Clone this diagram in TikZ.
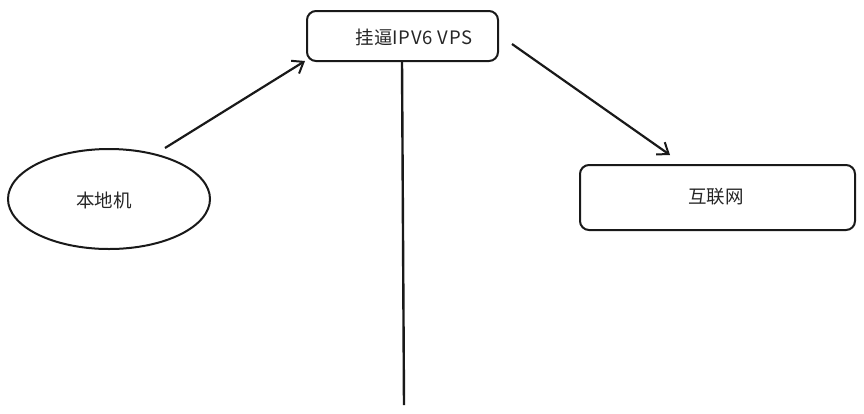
\documentclass[tikz,border=0pt]{standalone}
\usepackage{fontspec}
\setmainfont{Noto Sans CJK SC}
\usetikzlibrary{arrows.meta,shapes.geometric}
\begin{document}
\begin{tikzpicture}[x=1pt,y=-1pt,
  sk/.style={draw=black!90, line width=2pt},
  boxr/.style={sk, rounded corners=9pt, inner sep=0pt},
  lbl/.style={font=\fontsize{18.5}{18.5}\selectfont, text=black!85},
  arr/.style={line width=2.2pt, draw=black!90, -{Straight Barb[length=10pt,width=15pt,line width=2pt]}},
  ln/.style={line width=2.4pt, draw=black!90}]
\useasboundingbox (0,0) rectangle (864,413);
\node[boxr, minimum width=191pt, minimum height=50pt] (vps) at (402.5,36) {};
\node[lbl] (vpst) at (414,37) {挂逼\addfontfeature{LetterSpace=4}IPV6 VPS};
\node[sk, ellipse, minimum width=202pt, minimum height=100pt, inner sep=0pt] (local) at (109,199) {};
\node[lbl] at (104,200) {本地机};
\node[boxr, minimum width=275pt, minimum height=65pt] (net) at (717.5,197.5) {};
\node[lbl] at (716,197) {互联网};
\coordinate (a1s) at (165,148);
\coordinate (a1e) at (305,61);
\coordinate (a2s) at (512,44);
\coordinate (a2e) at (670,155);
\coordinate (ls) at (402,61);
\coordinate (le) at (404,405);
\draw[arr] (a1s) -- (a1e);
\draw[arr] (a2s) -- (a2e);
\draw[ln] (ls) -- (le);
\end{tikzpicture}
\end{document}
